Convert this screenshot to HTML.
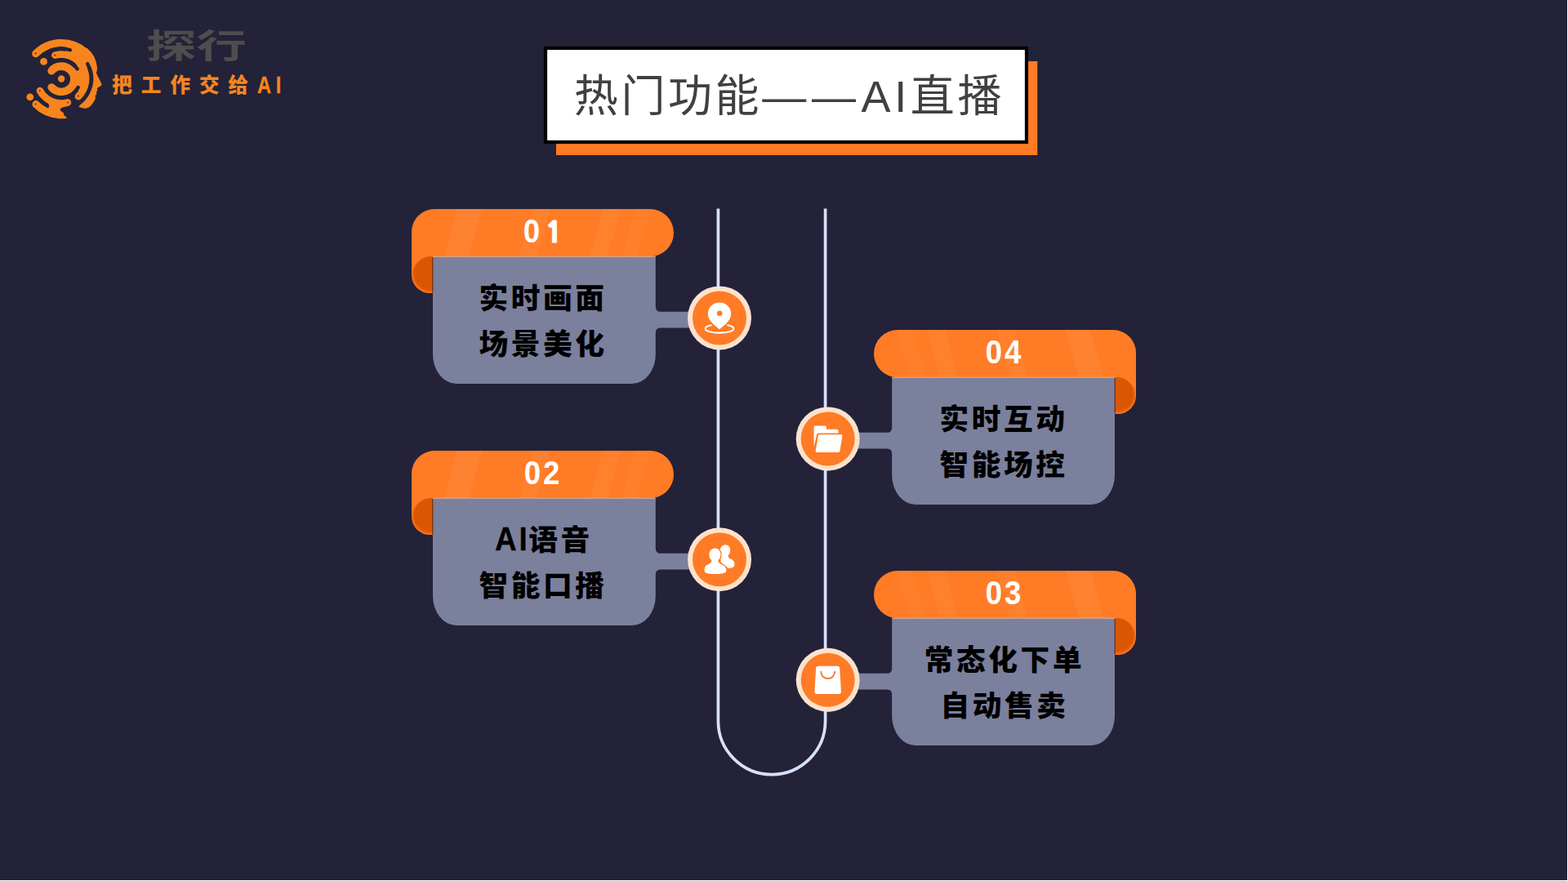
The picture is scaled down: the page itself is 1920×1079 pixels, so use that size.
<!DOCTYPE html>
<html lang="zh-CN">
<head>
<meta charset="utf-8">
<title>热门功能——AI直播</title>
<style>
html,body{margin:0;padding:0;}
body{width:1920px;height:1079px;overflow:hidden;background:#232238;position:relative;font-family:"Liberation Sans","Noto Sans CJK SC",sans-serif;}
.t{position:absolute;white-space:nowrap;line-height:1;}
.brand{left:179.4px;top:32.6px;font-size:41px;font-weight:700;color:#4d4d4d;transform:scaleX(1.5);transform-origin:0 0;font-family:"Noto Sans CJK SC","Liberation Sans",sans-serif;}
.slogan{left:137.2px;top:92.6px;font-size:24.6px;font-weight:900;color:#f6851f;letter-spacing:11px;font-family:"Liberation Sans","Noto Sans CJK SC",sans-serif;}
.title{left:702.8px;top:91px;font-size:54px;font-weight:400;color:#404040;letter-spacing:3.6px;font-family:"Liberation Sans","Noto Sans CJK SC",sans-serif;}
.num{font-size:39.8px;font-weight:700;color:#fff;letter-spacing:3.2px;width:200px;text-align:center;transform:scaleX(0.92);}
.num .n1{font-family:"NanumGothic","Liberation Sans",sans-serif;font-weight:800;font-size:33.6px;-webkit-text-stroke:1px #fff;margin-left:3.6px;display:inline-block;transform:scaleX(1.12);transform-origin:0 0;}
.lbl .ai{display:inline-block;position:relative;width:38.5px;height:1px;letter-spacing:0;margin-right:3.5px;}
.lbl .ai b{position:absolute;left:-7.6px;bottom:-6.8px;width:60px;text-align:center;font-family:"Liberation Sans",sans-serif;font-weight:700;font-size:40.5px;line-height:1;letter-spacing:3.2px;transform:scaleX(0.89);-webkit-text-stroke:0.3px #000;transform-origin:50% 50%;}
.title .d{letter-spacing:6.7px;}
.title .a{letter-spacing:4.6px;}
.slogan .a{display:inline-block;position:relative;width:30px;height:1px;letter-spacing:0;}
.slogan .a b{position:absolute;left:0.2px;bottom:-5.9px;font-family:"Liberation Sans",sans-serif;font-weight:700;font-size:28.8px;line-height:1;letter-spacing:7.1px;transform:scaleX(0.82);-webkit-text-stroke:0.3px #f6851f;transform-origin:0 50%;white-space:nowrap;}
.lbl{font-size:35px;font-weight:900;color:#000;letter-spacing:3.5px;width:300px;text-align:center;transform:scaleX(1.02);font-family:"Liberation Sans","Noto Sans CJK SC",sans-serif;}
</style>
</head>
<body>
<svg width="1920" height="1079" viewBox="0 0 1920 1079" style="position:absolute;left:0;top:0">
<rect x="681" y="75" width="589.3" height="115" fill="#ff7b25"/>
<rect x="668" y="59" width="589" height="115" fill="#fff" stroke="#000" stroke-width="4.2"/>
<path d="M879.4,255.6 L879.4,883 A65.6,65.6 0 0 0 1010.6,883 L1010.6,255.6" fill="none" stroke="#d8dfff" stroke-width="3.7"/>
<g transform="translate(504,256)"><path d="M0,28 A28,28 0 0 1 28,0 L291.85,0 A29.15,29.15 0 0 1 291.85,58.3 L28,58.3 L28,80.7 L0,80.7 Z" fill="#ff7b25"/><polygon points="56,0.3 86,0.3 70,58.0 40,58.0" fill="#fff" opacity="0.06"/><polygon points="148,0.3 170,0.3 154,58.0 132,58.0" fill="#fff" opacity="0.04"/><polygon points="234,0.3 256,0.3 240,58.0 218,58.0" fill="#fff" opacity="0.04"/><polygon points="274,0.3 292,0.3 276,58.0 258,58.0" fill="#fff" opacity="0.03"/><circle cx="22.4" cy="80.7" r="22.4" fill="#ff7a20"/><circle cx="22.7" cy="80.2" r="21.9" fill="#f36d15"/><circle cx="23.0" cy="79.7" r="21.4" fill="#e9630c"/><circle cx="23.3" cy="79.2" r="20.9" fill="#e15c07"/><circle cx="23.7" cy="78.6" r="20.3" fill="#db5602"/><path d="M26,58.3 L298.8,58.3 L298.8,119.8 Q298.8,125.8 304.8,125.8 L348.8,125.8 L348.8,145.4 L304.8,145.4 Q298.8,145.4 298.8,151.4 L298.8,178 A29,36 0 0 1 269.8,214 L55,214 A29,36 0 0 1 26,178 Z" fill="#7b809d"/><rect x="25.3" y="58.9" width="1" height="43.6" fill="#3a1200" opacity="0.75"/><rect x="26" y="57.8" width="272.8" height="0.9" fill="#f6c3a4" opacity="0.9"/></g>
<g transform="translate(504,552)"><path d="M0,28 A28,28 0 0 1 28,0 L291.85,0 A29.15,29.15 0 0 1 291.85,58.3 L28,58.3 L28,80.7 L0,80.7 Z" fill="#ff7b25"/><polygon points="56,0.3 86,0.3 70,58.0 40,58.0" fill="#fff" opacity="0.06"/><polygon points="148,0.3 170,0.3 154,58.0 132,58.0" fill="#fff" opacity="0.04"/><polygon points="234,0.3 256,0.3 240,58.0 218,58.0" fill="#fff" opacity="0.04"/><polygon points="274,0.3 292,0.3 276,58.0 258,58.0" fill="#fff" opacity="0.03"/><circle cx="22.4" cy="80.7" r="22.4" fill="#ff7a20"/><circle cx="22.7" cy="80.2" r="21.9" fill="#f36d15"/><circle cx="23.0" cy="79.7" r="21.4" fill="#e9630c"/><circle cx="23.3" cy="79.2" r="20.9" fill="#e15c07"/><circle cx="23.7" cy="78.6" r="20.3" fill="#db5602"/><path d="M26,58.3 L298.8,58.3 L298.8,119.8 Q298.8,125.8 304.8,125.8 L348.8,125.8 L348.8,145.4 L304.8,145.4 Q298.8,145.4 298.8,151.4 L298.8,178 A29,36 0 0 1 269.8,214 L55,214 A29,36 0 0 1 26,178 Z" fill="#7b809d"/><rect x="25.3" y="58.9" width="1" height="43.6" fill="#3a1200" opacity="0.75"/><rect x="26" y="57.8" width="272.8" height="0.9" fill="#f6c3a4" opacity="0.9"/></g>
<g transform="translate(1391,404) scale(-1,1)"><path d="M0,28 A28,28 0 0 1 28,0 L291.85,0 A29.15,29.15 0 0 1 291.85,58.3 L28,58.3 L28,80.7 L0,80.7 Z" fill="#ff7b25"/><polygon points="56,0.3 86,0.3 70,58.0 40,58.0" fill="#fff" opacity="0.06"/><polygon points="148,0.3 170,0.3 154,58.0 132,58.0" fill="#fff" opacity="0.04"/><polygon points="234,0.3 256,0.3 240,58.0 218,58.0" fill="#fff" opacity="0.04"/><polygon points="274,0.3 292,0.3 276,58.0 258,58.0" fill="#fff" opacity="0.03"/><circle cx="22.4" cy="80.7" r="22.4" fill="#ff7a20"/><circle cx="22.7" cy="80.2" r="21.9" fill="#f36d15"/><circle cx="23.0" cy="79.7" r="21.4" fill="#e9630c"/><circle cx="23.3" cy="79.2" r="20.9" fill="#e15c07"/><circle cx="23.7" cy="78.6" r="20.3" fill="#db5602"/><path d="M26,58.3 L298.8,58.3 L298.8,119.8 Q298.8,125.8 304.8,125.8 L348.8,125.8 L348.8,145.4 L304.8,145.4 Q298.8,145.4 298.8,151.4 L298.8,178 A29,36 0 0 1 269.8,214 L55,214 A29,36 0 0 1 26,178 Z" fill="#7b809d"/><rect x="25.3" y="58.9" width="1" height="43.6" fill="#3a1200" opacity="0.75"/><rect x="26" y="57.8" width="272.8" height="0.9" fill="#f6c3a4" opacity="0.9"/></g>
<g transform="translate(1391,699) scale(-1,1)"><path d="M0,28 A28,28 0 0 1 28,0 L291.85,0 A29.15,29.15 0 0 1 291.85,58.3 L28,58.3 L28,80.7 L0,80.7 Z" fill="#ff7b25"/><polygon points="56,0.3 86,0.3 70,58.0 40,58.0" fill="#fff" opacity="0.06"/><polygon points="148,0.3 170,0.3 154,58.0 132,58.0" fill="#fff" opacity="0.04"/><polygon points="234,0.3 256,0.3 240,58.0 218,58.0" fill="#fff" opacity="0.04"/><polygon points="274,0.3 292,0.3 276,58.0 258,58.0" fill="#fff" opacity="0.03"/><circle cx="22.4" cy="80.7" r="22.4" fill="#ff7a20"/><circle cx="22.7" cy="80.2" r="21.9" fill="#f36d15"/><circle cx="23.0" cy="79.7" r="21.4" fill="#e9630c"/><circle cx="23.3" cy="79.2" r="20.9" fill="#e15c07"/><circle cx="23.7" cy="78.6" r="20.3" fill="#db5602"/><path d="M26,58.3 L298.8,58.3 L298.8,119.8 Q298.8,125.8 304.8,125.8 L348.8,125.8 L348.8,145.4 L304.8,145.4 Q298.8,145.4 298.8,151.4 L298.8,178 A29,36 0 0 1 269.8,214 L55,214 A29,36 0 0 1 26,178 Z" fill="#7b809d"/><rect x="25.3" y="58.9" width="1" height="43.6" fill="#3a1200" opacity="0.75"/><rect x="26" y="57.8" width="272.8" height="0.9" fill="#f6c3a4" opacity="0.9"/></g>
<g transform="translate(881,389.4)"><circle r="39" fill="#fde2cf"/><circle r="33" fill="#ff7b25"/><g><path d="M-10.2,8.9 C-14.6,9.8 -17.4,11.4 -17.4,13.3 C-17.4,16 -9.6,18.2 0,18.2 C9.6,18.2 17.4,16 17.4,13.3 C17.4,11.4 14.6,9.8 10.2,8.9" fill="none" stroke="#fff" stroke-width="2.1" stroke-linecap="round"/><path d="M0,-18.9 C7.9,-18.9 14.2,-12.8 14.2,-5.2 C14.2,3.2 5.6,9.4 0,13.8 C-5.6,9.4 -14.2,3.2 -14.2,-5.2 C-14.2,-12.8 -7.9,-18.9 0,-18.9 Z" fill="#fff"/><circle cx="0.2" cy="-5.6" r="3.3" fill="#ff7b25"/></g></g>
<g transform="translate(881,685.2)"><circle r="39" fill="#fde2cf"/><circle r="33" fill="#ff7b25"/><g><path d="M7,-17.9 C10.6,-17.9 13.2,-15 13.2,-11.4 C13.2,-8.6 12.2,-6.4 10.6,-5 C10.4,-2.8 11.6,-1.6 14.2,-0.4 C17.4,1 18.4,3 18.4,6.6 C18.4,9.4 16,10.6 11,10.8 L2,4 L0,-10 C0.8,-14.6 3.4,-17.9 7,-17.9 Z" fill="#fff"/><path d="M-5.6,-13.7 C-1.6,-13.7 1.4,-10.4 1.4,-6.3 C1.4,-3.2 0.2,-0.6 -1.6,0.9 C-1.8,3.4 -0.4,4.8 2.6,6 C6.6,7.6 8.4,9.8 8.4,13.5 C8.4,16.6 4,17.8 -5.6,17.8 C-15.2,17.8 -18.4,16.6 -18.4,13.5 C-18.4,9.8 -17.8,7.6 -13.8,6 C-10.8,4.8 -9.4,3.4 -9.6,0.9 C-11.4,-0.6 -12.6,-3.2 -12.6,-6.3 C-12.6,-10.4 -9.6,-13.7 -5.6,-13.7 Z" fill="#fff" stroke="#ff7b25" stroke-width="2.6" paint-order="stroke"/></g></g>
<g transform="translate(1013.7,537.4)"><circle r="39" fill="#fde2cf"/><circle r="33" fill="#ff7b25"/><g><path d="M-17.1,-14.3 Q-17.1,-15.8 -15.6,-15.8 L-3.3,-15.8 Q-1.8,-15.8 -1.8,-14.3 L-1.8,-11.6 L10.6,-11.6 Q13,-11.6 13,-9.2 L13,-7 L-11.6,-7 Q-13.2,-7 -13.5,-5.4 L-17.1,10 Z" fill="#fff"/><path d="M-10.2,-5.1 L16.4,-5.1 Q18,-5.1 17.7,-3.5 L14.7,15 Q14.4,16.6 12.8,16.6 L-13.7,16.6 Q-15.3,16.6 -15,15 L-11.8,-3.7 Q-11.6,-5.1 -10.2,-5.1 Z" fill="#fff"/></g></g>
<g transform="translate(1013.7,832.8)"><circle r="39" fill="#fde2cf"/><circle r="33" fill="#ff7b25"/><g><path d="M-11.3,-17 L11.3,-17 Q14.3,-17 14.6,-14 L16.2,14 Q16.4,17.2 13.2,17.2 L-13.2,17.2 Q-16.4,17.2 -16.2,14 L-14.6,-14 Q-14.3,-17 -11.3,-17 Z" fill="#fff"/><path d="M-8.4,-10 C-8.4,-5.2 -4.6,-1.8 0,-1.8 C4.6,-1.8 8.4,-5.2 8.4,-10" fill="none" stroke="#f4783a" stroke-width="1.9" stroke-linecap="round"/></g></g>
<rect x="0" y="1078" width="1920" height="1" fill="#fff"/>
<rect x="1919" y="0" width="1" height="1079" fill="#fff"/>
<svg x="28" y="44" width="100" height="106" viewBox="0 0 1018 1079"><path d="M160.5,221.0 A448,448 0 0 1 779.8,202.1" fill="none" stroke="#f6851f" stroke-width="94" stroke-linecap="round"/><polygon points="798,150 850,200 890,262 915,330 927,400 922,440 915,462 935,505 960,555 984,602 975,622 945,640 925,652 930,682 915,702 921,726 901,746 906,776 890,812 862,852 832,886 782,906 730,897 695,884 760,800 840,660 850,535 800,330 740,200" fill="#f6851f"/><path d="M401.1,240.4 A305,305 0 0 1 691.9,754.4" fill="none" stroke="#f6851f" stroke-width="88" stroke-linecap="round"/><path d="M558.9,829.6 A305,305 0 0 1 213.2,682.9" fill="none" stroke="#f6851f" stroke-width="88" stroke-linecap="round"/><path d="M357.4,435.2 A160,160 0 1 1 357.4,640.8" fill="none" stroke="#f6851f" stroke-width="98" stroke-linecap="round"/><path d="M652.4,379.8 A232,232 0 0 1 667.7,671.4" fill="none" stroke="#f6851f" stroke-width="150" stroke-linecap="butt"/><path d="M532.5,161.7 A377,377 0 0 1 829.5,393.8" fill="none" stroke="#f6851f" stroke-width="150" stroke-linecap="butt"/><path d="M464.4,982.7 A448,448 0 0 1 163.2,851.8" fill="none" stroke="#f6851f" stroke-width="94" stroke-linecap="round"/><path d="M466.8,911.8 A377,377 0 0 1 326.7,879.4" fill="none" stroke="#f6851f" stroke-width="150" stroke-linecap="butt"/><path d="M300,800 L575,868 C520,880 465,895 462,925 C460,960 520,990 552,1024 L520,1030 L440,1030 L380,1000 Z" fill="#f6851f"/><path d="M277.4,418.0 A234,234 0 0 1 678.4,411.0" fill="none" stroke="#232238" stroke-width="46" stroke-linecap="round"/><path d="M688.5,641.2 A234,234 0 0 1 277.4,652.0" fill="none" stroke="#232238" stroke-width="46" stroke-linecap="round"/><path d="M297.7,863.9 A376,376 0 0 1 589.9,175.4" fill="none" stroke="#232238" stroke-width="44" stroke-linecap="round"/><path d="M805.6,347.0 A376,376 0 0 1 596.2,892.6" fill="none" stroke="#232238" stroke-width="44" stroke-linecap="round"/><circle cx="260" cy="320" r="45" fill="#f6851f"/><circle cx="90" cy="762" r="45" fill="#f6851f"/><circle cx="480" cy="535" r="43" fill="#f6851f"/><circle cx="160" cy="218" r="11" fill="#8a2a10"/><circle cx="400" cy="240" r="11" fill="#8a2a10"/><circle cx="210" cy="685" r="11" fill="#8a2a10"/><circle cx="160" cy="850" r="11" fill="#8a2a10"/><circle cx="560" cy="830" r="11" fill="#8a2a10"/><circle cx="690" cy="750" r="11" fill="#8a2a10"/></svg>
</svg>
<div class="t brand">探行</div>
<div class="t slogan">把工作交给<span class="a"><b>AI</b></span></div>
<div class="t title">热门功能<span class="d">——</span><span class="a">AI</span>直播</div>
<div class="t num" style="left:564.6px;top:263.5px">0<span class="n1">1</span></div>
<div class="t lbl" style="left:515.0px;top:348px">实时画面</div>
<div class="t lbl" style="left:515.0px;top:404px">场景美化</div>
<div class="t num" style="left:564.6px;top:559.5px">02</div>
<div class="t lbl" style="left:515.2px;top:644px"><span class="ai"><b>AI</b></span>语音</div>
<div class="t lbl" style="left:515.2px;top:700px">智能口播</div>
<div class="t num" style="left:1130.1px;top:411.5px">04</div>
<div class="t lbl" style="left:1078.7px;top:496px">实时互动</div>
<div class="t lbl" style="left:1078.7px;top:552px">智能场控</div>
<div class="t num" style="left:1130.1px;top:706.5px">03</div>
<div class="t lbl" style="left:1079.5px;top:791px">常态化下单</div>
<div class="t lbl" style="left:1079.5px;top:847px">自动售卖</div>
</body>
</html>
